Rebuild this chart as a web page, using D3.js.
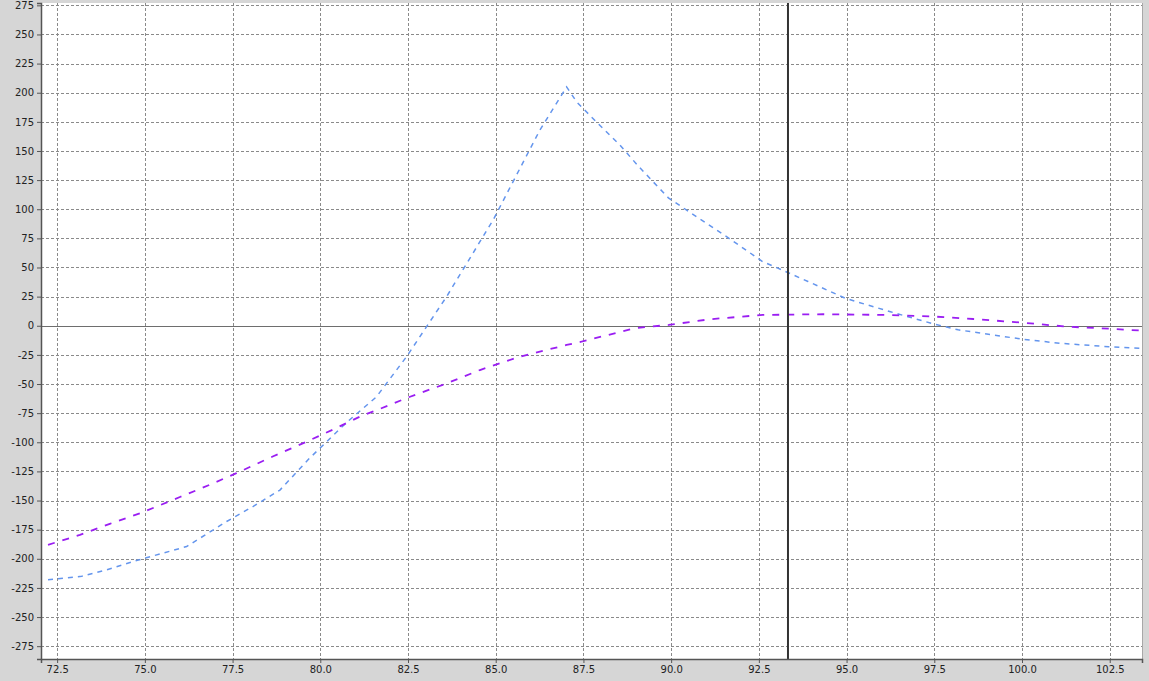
<!DOCTYPE html>
<html>
<head>
<meta charset="utf-8">
<script src="https://cdn.jsdelivr.net/npm/d3@7"></script>
<style>
  body { margin: 0; background: #d6d6d6; }
  svg { display: block; }
  .tick text { font-family: "DejaVu Sans", sans-serif; font-size: 10px; fill: #222; }
</style>
</head>
<body>
<svg></svg>
<script>
// chart size
const width = 1149;
const height = 681;
const plot = { left: 41, top: 3, right: 1142, bottom: 659 };

// tick labels
const xTicks = [72.5, 75.0, 77.5, 80.0, 82.5, 85.0, 87.5, 90.0, 92.5, 95.0, 97.5, 100.0, 102.5];
const yTicks = [-275, -250, -225, -200, -175, -150, -125, -100, -75, -50, -25, 0,
  25, 50, 75, 100, 125, 150, 175, 200, 225, 250, 275];

// blue dashed series
const blueX = [72.24, 73.2, 73.91, 74.76, 76.19, 77.33, 78.09, 78.85, 79.7, 80.75, 81.6, 82.46,
  83.6, 84.93, 86.26, 87.02, 87.31, 87.9, 88.54, 89.08, 89.93, 90.58, 91.65, 92.61, 93.04,
  93.9, 94.97, 96.25, 97.43, 98.18, 100.0, 101.07, 102.47, 103.41];
const blueY = [-218, -215, -209.5, -201.5, -189.5, -168, -155, -141, -113.5, -83, -61, -26.5,
  25, 91, 168, 205, 192, 174, 155, 136.5, 109.5, 96.5, 75, 55, 49.5,
  38, 23.5, 12, 2, -3.5, -11.5, -15, -18, -19.5];

// purple dashed series
const purpleX = [72.24, 73.15, 74.0, 74.86, 76.0, 76.85, 77.61, 78.66, 79.61, 80.37, 81.13, 81.98,
  82.46, 83.6, 84.55, 85.69, 87.02, 87.47, 88.97, 89.93, 91.11, 92.61, 94.33, 96.15, 97.54,
  98.61, 100.0, 101.29, 102.47, 103.41];
const purpleY = [-188, -179.5, -170, -161, -147, -136.5, -126.5, -112, -99.5, -89, -78, -68,
  -62, -49.5, -38, -26.5, -16.5, -13.5, -2, 0.7, 5.6, 9.3, 9.9, 9.3, 7.8,
  5.8, 2.7, -0.8, -2.5, -4.2];

// cursor position
const cursorX = 93.33;

const svg = d3.select("svg").attr("width", width).attr("height", height);

const xScale = d3.scaleLinear().domain([72.04, 103.42]).range([plot.left, plot.right]);
const yScale = d3.scaleLinear().domain([-286, 277]).range([plot.bottom, plot.top]);

// background of the plot
svg.append("rect")
  .attr("x", plot.left)
  .attr("y", plot.top)
  .attr("width", plot.right - plot.left)
  .attr("height", plot.bottom - plot.top)
  .attr("fill", "#fff");

svg.append("line")
  .attr("x1", plot.right + 0.5).attr("x2", plot.right + 0.5)
  .attr("y1", plot.top).attr("y2", plot.bottom)
  .attr("stroke", "#a8a8a8");

// grid
const grid = svg.append("g").attr("stroke", "#8a8a8a").attr("stroke-dasharray", "3,2");
grid.selectAll(".vg")
  .data(xTicks)
  .enter()
  .append("line")
  .attr("x1", (d) => Math.round(xScale(d)) + 0.5)
  .attr("x2", (d) => Math.round(xScale(d)) + 0.5)
  .attr("y1", plot.top)
  .attr("y2", plot.bottom);
grid.selectAll(".hg")
  .data(yTicks.filter((d) => d !== 0))
  .enter()
  .append("line")
  .attr("x1", plot.left)
  .attr("x2", plot.right)
  .attr("y1", (d) => Math.round(yScale(d)) + 0.5)
  .attr("y2", (d) => Math.round(yScale(d)) + 0.5);

// zero line
svg.append("line")
  .attr("x1", plot.left).attr("x2", plot.right)
  .attr("y1", Math.round(yScale(0)) + 0.5).attr("y2", Math.round(yScale(0)) + 0.5)
  .attr("stroke", "#6e6e6e");

// series
const line = d3.line().x((d) => xScale(d[0])).y((d) => yScale(d[1]));

svg.append("path")
  .datum(blueX.map((x, i) => [x, blueY[i]]))
  .attr("d", line)
  .attr("fill", "none")
  .attr("stroke", "#6495ed")
  .attr("stroke-width", 1.5)
  .attr("stroke-dasharray", "5,5");

svg.append("path")
  .datum(purpleX.map((x, i) => [x, purpleY[i]]))
  .attr("d", line)
  .attr("fill", "none")
  .attr("stroke", "#9a1ef2")
  .attr("stroke-width", 1.8)
  .attr("stroke-dasharray", "7,8");

// cursor line
svg.append("line")
  .attr("x1", xScale(cursorX)).attr("x2", xScale(cursorX))
  .attr("y1", plot.top).attr("y2", plot.bottom)
  .attr("stroke", "#333")
  .attr("stroke-width", 2);

// axes
const xAxis = svg.append("g")
  .attr("transform", "translate(0," + plot.bottom + ")")
  .call(d3.axisBottom(xScale).tickValues(xTicks).tickSize(4).tickPadding(3)
    .tickFormat((d) => d.toFixed(1)));
const yAxis = svg.append("g")
  .attr("transform", "translate(" + plot.left + ",0)")
  .call(d3.axisLeft(yScale).tickValues(yTicks).tickSize(4).tickPadding(3)
    .tickFormat((d) => String(d)));

[xAxis, yAxis].forEach((ax) => {
  ax.select(".domain").attr("stroke", "#555").attr("stroke-width", 1.5);
  ax.selectAll(".tick line").attr("stroke", "#555");
});
</script>
</body>
</html>
